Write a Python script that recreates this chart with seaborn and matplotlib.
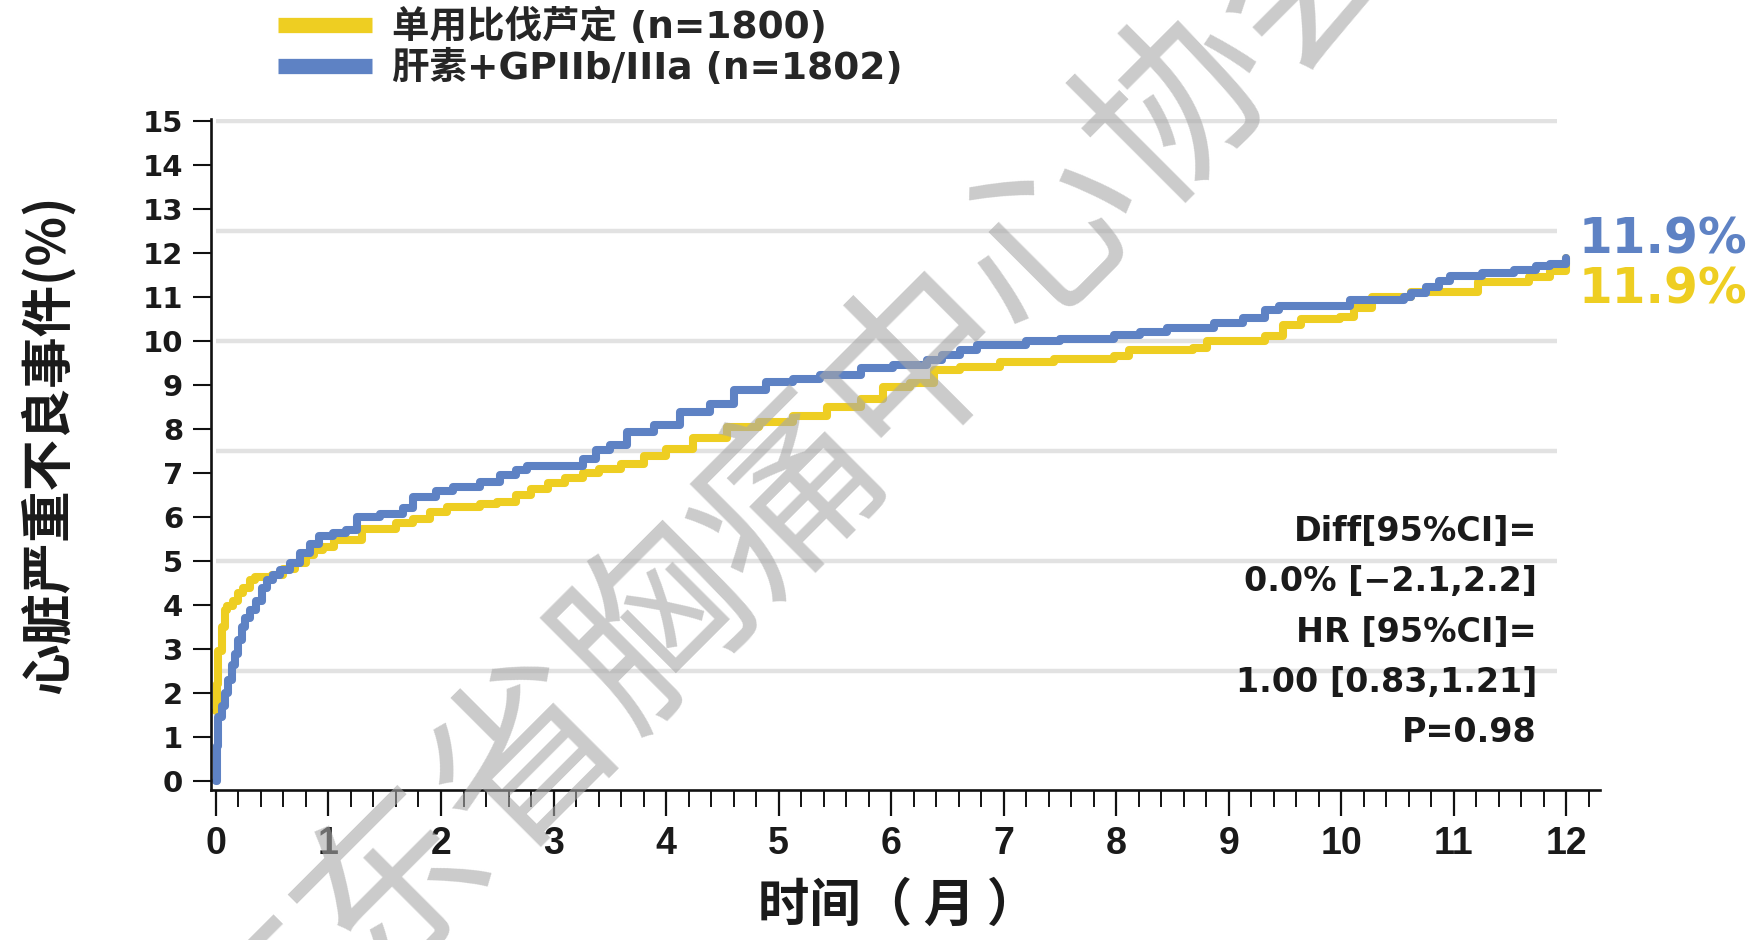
import matplotlib
matplotlib.use("Agg")
import matplotlib.pyplot as plt
from matplotlib.lines import Line2D
from matplotlib.ticker import MultipleLocator
import pandas as pd
import seaborn as sns

# Treatment arms (legend labels) and their colours
ARMS = ["单用比伐芦定 (n=1800)", "肝素+GPIIb/IIIa (n=1802)"]
ARM_COLORS = ["#EECE22", "#5E82C4"]

# Cumulative incidence of major adverse cardiac events (%), by month
BIVAL_MONTHS = [0.0, 0.01, 0.02, 0.05, 0.08, 0.1, 0.15, 0.2, 0.24, 0.3, 0.35, 0.5,
                0.6, 0.7, 0.8, 0.87, 0.95, 1.05, 1.3, 1.6, 1.75, 1.9, 2.05, 2.35,
                2.5, 2.67, 2.8, 2.95, 3.1, 3.26, 3.4, 3.6, 3.8, 4.0, 4.24, 4.54,
                4.83, 5.13, 5.43, 5.73, 5.93, 6.17, 6.38, 6.61, 6.97, 7.45, 7.98,
                8.11, 8.68, 8.81, 9.32, 9.48, 9.64, 9.99, 10.11, 10.27, 10.62,
                11.22, 11.67, 11.86, 12.0]
BIVAL_PCT = [1.6, 2.2, 2.95, 3.5, 3.9, 3.98, 4.1, 4.27, 4.4, 4.57, 4.64, 4.68,
             4.82, 4.97, 5.15, 5.25, 5.33, 5.48, 5.74, 5.86, 5.97, 6.12, 6.23, 6.31,
             6.35, 6.5, 6.65, 6.77, 6.88, 7.0, 7.1, 7.22, 7.4, 7.55, 7.8, 8.05,
             8.17, 8.3, 8.5, 8.69, 8.96, 9.04, 9.34, 9.42, 9.53, 9.6, 9.66,
             9.8, 9.85, 10.0, 10.12, 10.37, 10.5, 10.56, 10.76, 11.0, 11.12,
             11.34, 11.47, 11.6, 11.9]

HEP_MONTHS = [0.0, 0.005, 0.02, 0.05, 0.08, 0.11, 0.14, 0.17, 0.20, 0.23, 0.26,
              0.30, 0.36, 0.41, 0.45, 0.51, 0.57, 0.66, 0.75, 0.84, 0.92, 1.04,
              1.16, 1.25, 1.46, 1.66, 1.75, 1.96, 2.11, 2.35, 2.52, 2.67, 2.76,
              3.26, 3.38, 3.5, 3.65, 3.89, 4.12, 4.39, 4.6, 4.89, 5.13, 5.37,
              5.73, 6.02, 6.32, 6.45, 6.61, 6.76, 7.2, 7.5, 7.98, 8.21, 8.45,
              8.87, 9.13, 9.32, 9.45, 10.08, 10.56, 10.62, 10.75, 10.87, 10.97,
              11.25, 11.54, 11.73, 11.86, 12.0]
HEP_PCT = [0.0, 0.8, 1.45, 1.7, 2.0, 2.3, 2.65, 2.9, 3.2, 3.5, 3.72,
           3.9, 4.1, 4.4, 4.57, 4.68, 4.8, 4.95, 5.18, 5.4, 5.58, 5.63,
           5.7, 6.0, 6.08, 6.2, 6.46, 6.6, 6.68, 6.8, 6.95, 7.08, 7.16,
           7.33, 7.52, 7.65, 7.94, 8.09, 8.39, 8.58, 8.89, 9.08, 9.15, 9.23,
           9.38, 9.45, 9.57, 9.68, 9.8, 9.91, 10.0, 10.05, 10.13, 10.22, 10.3,
           10.42, 10.52, 10.72, 10.8, 10.94, 11.0, 11.1, 11.24, 11.36, 11.48,
           11.56, 11.62, 11.7, 11.76, 11.9]

X_TICKS = list(range(0, 13))
Y_TICKS = list(range(0, 16))
GRID_LEVELS = [2.5, 5, 7.5, 10, 12.5, 15]
GRID_END = 11.92
STATS_LINES = ["Diff[95%CI]=", "0.0% [\u22122.1,2.2]", "HR [95%CI]=",
               "1.00 [0.83,1.21]", "P=0.98"]
X_LABEL = "时间（ 月 ）"
Y_LABEL = "心脏严重不良事件(%)"
WATERMARK = "广东省胸痛中心协会"

sns.set_style("ticks")
plt.rcParams["font.family"] = ["DejaVu Sans", "Noto Sans CJK SC"]
plt.rcParams["axes.unicode_minus"] = False

df = pd.concat([
    pd.DataFrame({"month": BIVAL_MONTHS, "pct": BIVAL_PCT, "arm": ARMS[0]}),
    pd.DataFrame({"month": HEP_MONTHS, "pct": HEP_PCT, "arm": ARMS[1]}),
], ignore_index=True)

W, H = 1757, 940
fig = plt.figure(figsize=(W / 100, H / 100), dpi=100)
ax = fig.add_axes([211 / W, 150 / H, 1389 / W, 671 / H])

# light horizontal reference bands
ax.hlines(GRID_LEVELS, 0, GRID_END, colors="#e2e2e2", lw=3.2, zorder=0.5)

sns.lineplot(data=df, x="month", y="pct", hue="arm", hue_order=ARMS,
             palette=ARM_COLORS, estimator=None, sort=True, drawstyle="steps-post",
             linewidth=5.8, legend=False, ax=ax, zorder=2)

ax.set_xlim(-0.044, 12.30)
ax.set_ylim(-0.2, 15.05)

ax.set_xticks(X_TICKS)
ax.set_xticklabels([str(t) for t in X_TICKS], fontsize=27, fontweight="bold",
                   family="Liberation Sans", color="#1a1a1a")
ax.xaxis.set_minor_locator(MultipleLocator(0.2))
ax.set_yticks(Y_TICKS)
ax.set_yticklabels([str(t) for t in Y_TICKS], fontsize=21, fontweight="bold",
                   color="#1a1a1a")
ax.tick_params(axis="x", which="major", length=19, width=1.6, pad=7, color="#111111")
ax.tick_params(axis="x", which="minor", length=12, width=1.4, color="#111111")
ax.tick_params(axis="y", which="major", length=13, width=1.5, pad=7, color="#111111")

sns.despine(ax=ax)
for side in ("left", "bottom"):
    ax.spines[side].set_linewidth(1.9)
    ax.spines[side].set_color("#111111")

ax.set_xlabel(X_LABEL, fontsize=37, fontweight="bold", family=["Noto Sans CJK SC"],
              color="#1a1a1a")
ax.xaxis.set_label_coords(0.4946, -0.133)
ax.set_ylabel(Y_LABEL, fontsize=37, fontweight="bold", family=["Noto Sans CJK SC"],
              color="#1a1a1a")
ax.yaxis.set_label_coords(-0.098, 0.515)

# legend with wide colour bars
handles = [Line2D([], [], color=c, lw=11, solid_capstyle="butt") for c in ARM_COLORS]
ax.legend(handles, ARMS, loc="upper left", bbox_to_anchor=(278 / W, 1 - 9 / H),
          bbox_transform=fig.transFigure, frameon=False,
          prop={"weight": "bold", "size": 27}, handlelength=2.5,
          handletextpad=0.53, labelspacing=0.1, borderpad=0, borderaxespad=0)

# end-of-follow-up rates
ends = [(BIVAL_MONTHS[-1], BIVAL_PCT[-1], ARM_COLORS[0], -23),
        (HEP_MONTHS[-1], HEP_PCT[-1], ARM_COLORS[1], 13)]
for t_end, v_end, col, dy in ends:
    ax.annotate(f"{v_end:.1f}%", xy=(t_end, v_end), xytext=(9, dy),
                textcoords="offset points", ha="left", va="center", fontsize=35,
                fontweight="bold", color=col, annotation_clip=False)

# statistics block
for i, line in enumerate(STATS_LINES):
    ax.text(0.9546, 0.3850 - i * 0.0749, line, transform=ax.transAxes,
            ha="right", va="center", fontsize=24, fontweight="bold", color="#1a1a1a")

fig.text(790 / W, 1 - 497 / H, WATERMARK, rotation=45, rotation_mode="anchor",
         ha="center", va="center", fontsize=133, family=["Noto Sans CJK SC"],
         color="#a8a8a8", alpha=0.6, zorder=10)

fig.savefig("out.png", dpi=100)
